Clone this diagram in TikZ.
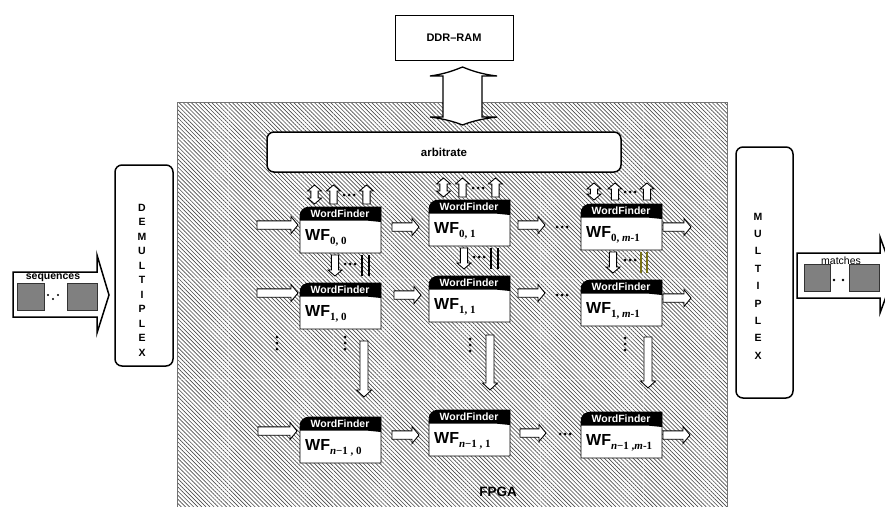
\documentclass[tikz,border=0pt]{standalone}
\usepackage{fontspec}
\setmainfont{Liberation Sans}
\newfontfamily\serifbf{Liberation Serif}
\usetikzlibrary{patterns.meta}

\newcommand\harr[3]{% x1 x2 y
  \draw[blockarrow] (#1,#3-4.2) -- (#2-7,#3-4.2) -- (#2-7,#3-8.5) -- (#2,#3) -- (#2-7,#3+8.5) -- (#2-7,#3+4.2) -- (#1,#3+4.2) -- cycle;}
\newcommand\varrdown[3]{% x y1 y2 (tip at y2)
  \draw[blockarrow] (#1-3.6,#2) -- (#1+3.6,#2) -- (#1+3.6,#3-6) -- (#1+7,#3-6) -- (#1,#3) -- (#1-7,#3-6) -- (#1-3.6,#3-6) -- cycle;}
\newcommand\varrup[3]{% x y1 y2 (tip at y1)
  \draw[blockarrow] (#1-3.6,#3) -- (#1+3.6,#3) -- (#1+3.6,#2+6) -- (#1+7,#2+6) -- (#1,#2) -- (#1-7,#2+6) -- (#1-3.6,#2+6) -- cycle;}
\newcommand\varrud[3]{% x y1 y2
  \draw[blockarrow] (#1-3.6,#2+6) -- (#1-7,#2+6) -- (#1,#2) -- (#1+7,#2+6) -- (#1+3.6,#2+6) -- (#1+3.6,#3-6) -- (#1+7,#3-6) -- (#1,#3) -- (#1-7,#3-6) -- (#1-3.6,#3-6) -- cycle;}
\newcommand\varrlong[3]{% x y1 y2 (tip at y2)
  \draw[blockarrow] (#1-4,#2) -- (#1+4,#2) -- (#1+4,#3-7) -- (#1+7.5,#3-7) -- (#1,#3) -- (#1-7.5,#3-7) -- (#1-4,#3-7) -- cycle;}
\newcommand\hdt[2]{\fill (#1-5,#2) circle (1.5) (#1,#2) circle (1.5) (#1+5,#2) circle (1.5);}
\newcommand\vdt[2]{\fill (#1,#2-6) circle (1.5) (#1,#2) circle (1.5) (#1,#2+6) circle (1.5);}
\newcommand\dbl[5]{% x1 x2 y1 y2 colour
  \draw[line width=1.1pt,#5] (#1,#3) -- (#1,#4) (#2,#3) -- (#2,#4);}
\newcommand\wfblock[4]{% name, x, y, subscript
  \path[fill=white,draw=black,line width=0.9pt] (#2,#3+46) -- (#2,#3+10) .. controls (#2,#3+3) and (#2+4,#3) .. (#2+11,#3) -- (#2+81,#3) -- (#2+81,#3+46) -- cycle;
  \fill[black] (#2,#3+13.5) -- (#2,#3+10) .. controls (#2,#3+3) and (#2+4,#3) .. (#2+11,#3) -- (#2+81,#3) -- (#2+81,#3+15) -- (#2+66,#3+13.5) -- cycle;
  \node[hdtext] (#1h) at (#2+40,#3+7.2) {WordFinder};
  \node[wftext] (#1) at (#2+5,#3+31) {WF\raisebox{-4.5pt}{\subfont #4}};}

\begin{document}
\begin{tikzpicture}[x=1pt,y=-1pt,
  blockarrow/.style={draw=black,fill=white,line width=0.9pt,line join=miter},
  hdtext/.style={text=white,font=\bfseries\fontsize{10.5}{10.5}\selectfont,inner sep=0pt},
  wftext/.style={anchor=west,font=\bfseries\fontsize{16}{16}\selectfont,inner sep=0pt},
  roundbox/.style={draw=black,fill=white,rounded corners=7pt,line width=1.5pt},
  bigarrow/.style={draw=black,fill=white,line width=1.5pt,line join=miter},
  graysq/.style={draw=black!80,fill=black!50,line width=0.6pt},
  seam/.style={white,line width=0.8pt,opacity=0.35}]
\def\subfont{\serifbf\bfseries\fontsize{11}{11}\selectfont}
\useasboundingbox (0,0) rectangle (885,506);

% FPGA area
\fill[pattern={Lines[angle=-45,distance=2.9pt,line width=0.65pt]},pattern color=black!70] (177,102) rectangle (727,508);
\draw[seam] (228,102) -- (228,506) (333,102) -- (333,506) (436,102) -- (436,506) (540,102) -- (540,506) (643,102) -- (643,506)
  (177,139) -- (727,139) (177,278) -- (727,278) (177,379) -- (727,379);
\draw[black!55,line width=0.6pt] (177,102) rectangle (727,508);
\node[font=\bfseries\fontsize{13.5}{13.5}\selectfont,inner sep=0pt] (fpga) at (498,492) {FPGA};

% DDR-RAM
\node[draw=black,fill=white,line width=0.8pt,minimum width=118pt,minimum height=45pt,font=\bfseries\fontsize{11}{11}\selectfont] (ddr) at (454,37.5) {DDR–RAM};
\draw[bigarrow,line width=1.3pt] (443,76) -- (430,76) .. controls (445,74) and (455,70) .. (462.5,67) .. controls (470,70) and (480,74) .. (497,76) -- (482,76) -- (482,117) -- (497,117) .. controls (480,119) and (470,122) .. (462.5,125) .. controls (455,122) and (445,119) .. (430,117) -- (443,117) -- cycle;

% arbitrate
\node[roundbox,minimum width=354pt,minimum height=40pt,font=\bfseries\fontsize{11.5}{11.5}\selectfont] (arb) at (444,152) {arbitrate};

% DEMULTIPLEX
\node[roundbox,minimum width=58pt,minimum height=201pt] (demux) at (144,265.5) {};
\node[font=\bfseries\fontsize{10.5}{14.5}\selectfont,align=center,inner sep=0pt] (demuxt) at (142,280) {D\\E\\M\\U\\L\\T\\I\\P\\L\\E\\X};

% MULTIPLEX
\node[roundbox,minimum width=57pt,minimum height=251pt] (mux) at (764.5,272.5) {};
\node[font=\bfseries\fontsize{10.5}{17.4}\selectfont,align=center,inner sep=0pt] (muxt) at (758,286) {M\\U\\L\\T\\I\\P\\L\\E\\X};

% sequences arrow
\draw[bigarrow] (13,272) -- (97,272) -- (97,255) -- (109,295) -- (97,333) -- (97,317) -- (13,317) -- cycle;
\node[font=\bfseries\fontsize{10.5}{10.5}\selectfont,inner sep=0pt] (seq) at (53,277.5) {sequences};
\draw[graysq] (17,283) rectangle (44,310);
\draw[graysq] (67,283) rectangle (97,310);
\fill (48,295) circle (1.1) (53,299) circle (1.1) (58,295) circle (1.1);

% matches arrow
\draw[bigarrow] (797,253) -- (880,253) -- (880,237) -- (894,275) -- (880,313) -- (880,298) -- (797,298) -- cycle;
\node[font=\fontsize{10.5}{10.5}\selectfont,inner sep=0pt] (mat) at (841,261) {matches};
\draw[graysq] (804,264) rectangle (830,291);
\draw[graysq] (849,264) rectangle (879,291);
\fill (834,280) circle (1.3) (843,280) circle (1.3);

% WordFinder blocks
\wfblock{wf00}{300}{207}{0, 0}
\wfblock{wf01}{429}{200}{0, 1}
\wfblock{wf02}{581}{204}{0, \textit{m}-1}
\wfblock{wf10}{300}{283}{1, 0}
\wfblock{wf11}{429}{276}{1, 1}
\wfblock{wf12}{581}{280}{1, \textit{m}-1}
\wfblock{wf20}{300}{417}{\textit{n}−1 , 0}
\wfblock{wf21}{429}{410}{\textit{n}−1 , 1}
\wfblock{wf22}{581}{412}{\textit{n}−1 ,\textit{m}-1}

% horizontal arrows
\harr{257}{298}{225}\harr{392}{419}{227}\harr{518}{545}{225}\hdt{562}{227}\harr{663}{691}{227}
\harr{257}{298}{293}\harr{394}{421}{295}\harr{518}{545}{293}\hdt{562}{295}\harr{663}{691}{298}
\harr{258}{297}{431}\harr{392}{419}{435}\harr{520}{546}{433}\hdt{565}{434}\harr{663}{690}{435}

% arbitrate to row 1
\varrud{314.5}{185}{204}\varrup{333.5}{185}{204}\hdt{349}{195}\varrup{366.5}{185}{204}
\varrud{443.5}{178}{197}\varrup{462.5}{178}{197}\hdt{478}{188}\varrup{495.5}{178}{197}
\varrud{594}{183}{200}\varrup{615}{183}{200}\hdt{630}{192}\varrup{647}{183}{200}

% row 1 to row 2
\varrdown{335}{255}{276}\hdt{350}{264}\dbl{362}{369}{255}{276}{black}
\varrdown{464}{248}{269}\hdt{479}{257}\dbl{491}{498}{248}{269}{black}
\varrdown{613}{252}{273}\hdt{630}{260}\dbl{641}{647}{252}{273}{olive!80!black}

% row 2 to row 3
\vdt{277}{343}\vdt{345}{343}\varrlong{364}{341}{397}
\vdt{470}{345}\varrlong{490}{335}{390}
\vdt{625}{344}\varrlong{648}{337}{388}
\end{tikzpicture}
\end{document}
